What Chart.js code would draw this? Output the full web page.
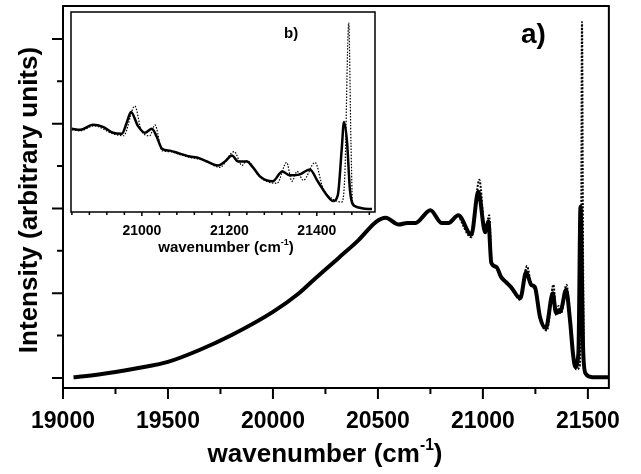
<!DOCTYPE html>
<html>
<head>
<meta charset="utf-8">
<script src="https://cdn.jsdelivr.net/npm/chart.js@4.4.1/dist/chart.umd.min.js"></script>
<style>
  html, body { margin: 0; padding: 0; background: #fff; }
  #wrap { position: relative; width: 641px; height: 474px; }
  #main { position: absolute; left: 0; top: 0; }
  #inset { position: absolute; left: 61px; top: 2px; }
</style>
</head>
<body>
<div id="wrap">
  <canvas id="main" width="641" height="474"></canvas>
  <canvas id="inset" width="325" height="260"></canvas>
</div>
<script>
// main spectrum a), solid trace
const mainWn = [19050, 19100, 19250, 19365, 19500, 19650, 19806, 20000, 20124, 20204, 20314, 20409,
  20490, 20537, 20599, 20640, 20679, 20750, 20803, 20836, 20883, 20945, 20978, 21011, 21026, 21040,
  21064, 21087, 21111, 21135, 21178, 21206, 21230, 21248, 21272, 21300, 21333, 21348, 21372, 21396,
  21415, 21429, 21440, 21455, 21465, 21478, 21490, 21520, 21600];
const mainSolid = [0.01, 0.02, 0.07, 0.12, 0.19, 0.33, 0.51, 0.78, 1.0, 1.18, 1.42, 1.63,
  1.84, 1.89, 1.81, 1.83, 1.83, 1.98, 1.83, 1.83, 1.92, 1.69, 2.2, 1.72, 1.85, 1.36,
  1.31, 1.19, 1.13, 1.07, 0.94, 1.25, 1.10, 1.07, 0.72, 0.59, 1.0, 0.77, 0.80, 1.04,
  0.68, 0.29, 0.13, 0.3, 2.02, 0.3, 0.05, 0.01, 0.01];

// main spectrum a), dotted trace (only differs on the right)
const mainWnDot = [20883, 20945, 20983, 21011, 21030, 21042, 21064, 21087, 21111, 21135, 21178, 21210,
  21232, 21250, 21272, 21305, 21336, 21350, 21360, 21372, 21398, 21418, 21432, 21445, 21462, 21468,
  21472, 21477, 21482, 21520, 21600];
const mainDotted = [1.92, 1.66, 2.34, 1.70, 1.92, 1.36, 1.30, 1.18, 1.12, 1.06, 0.92, 1.32,
  1.08, 1.05, 0.70, 0.56, 1.10, 0.74, 0.85, 0.76, 1.10, 0.60, 0.25, 0.10, 0.15, 1.5,
  4.2, 1.5, 0.1, 0.01, 0.01];

// inset b), solid trace
const insetWn = [20840, 20859, 20888, 20911, 20934, 20954, 20966, 20975, 20991, 21007, 21023, 21034,
  21046, 21064, 21087, 21110, 21126, 21149, 21174, 21190, 21206, 21220, 21240, 21254, 21270, 21299,
  21321, 21338, 21361, 21384, 21402, 21423, 21437, 21448, 21457, 21462, 21469, 21476, 21487, 21526];
const insetSolid = [1.64, 1.62, 1.72, 1.68, 1.56, 1.54, 1.78, 1.98, 1.70, 1.56, 1.64, 1.48,
  1.24, 1.20, 1.14, 1.08, 1.06, 0.98, 0.90, 0.98, 1.10, 0.98, 0.98, 0.86, 0.68, 0.58,
  0.78, 0.70, 0.72, 0.82, 0.58, 0.30, 0.18, 0.30, 1.24, 1.78, 1.38, 0.38, 0.08, 0.02];

// inset b), dotted trace
const insetWnDot = [20840, 20859, 20890, 20934, 20958, 20984, 20999, 21018, 21030, 21046, 21064, 21087,
  21110, 21130, 21152, 21178, 21211, 21229, 21240, 21270, 21309, 21331, 21343, 21355, 21369, 21396,
  21414, 21437, 21457, 21464, 21473, 21478, 21482, 21526];
const insetDotted = [1.62, 1.60, 1.70, 1.54, 1.50, 2.10, 1.60, 1.50, 1.72, 1.20, 1.18, 1.12,
  1.06, 1.03, 0.96, 0.86, 1.18, 0.90, 1.00, 0.66, 0.54, 0.96, 0.58, 0.78, 0.60, 0.96,
  0.44, 0.22, 0.16, 0.70, 3.78, 1.38, 0.10, 0.02];

// ticks
const mainXLabels = [19000, 19500, 20000, 20500, 21000, 21500];
const mainXMinor = [19250, 19750, 20250, 20750, 21250];
const mainYMajor = [0, 1, 2, 3, 4];
const mainYMinor = [0.5, 1.5, 2.5, 3.5];
const insetXLabels = [21000, 21200, 21400];
const insetXMinor = [20840, 20880, 20920, 20960, 21040, 21080, 21120, 21160, 21240, 21280, 21320, 21360, 21440, 21480, 21520];

const FONT = '"Liberation Sans", Arial, Helvetica, sans-serif';

function pts(xs, ys) {
  return xs.map((x, i) => ({ x: x, y: ys[i] }));
}

// draws text made of parts, e.g. superscripts
function drawParts(ctx, parts, x, y, size, align) {
  let w = 0;
  parts.forEach(p => {
    ctx.font = 'bold ' + (p.sup ? size * 0.6 : size) + 'px ' + FONT;
    p.w = ctx.measureText(p.t).width;
    w += p.w;
  });
  let cx = align === 'center' ? x - w / 2 : x;
  parts.forEach(p => {
    ctx.font = 'bold ' + (p.sup ? size * 0.6 : size) + 'px ' + FONT;
    ctx.fillText(p.t, cx, p.sup ? y - size * 0.45 : y);
    cx += p.w;
  });
}

const frameTicks = {
  id: 'frameTicks',
  afterDraw(chart, args, o) {
    const { ctx, chartArea: a, scales } = chart;
    ctx.save();
    ctx.strokeStyle = '#000';
    ctx.lineWidth = o.lw;
    ctx.strokeRect(a.left, a.top, a.right - a.left, a.bottom - a.top);
    ctx.beginPath();
    o.xMajor.forEach(v => {
      const p = scales.x.getPixelForValue(v);
      ctx.moveTo(p, a.bottom); ctx.lineTo(p, a.bottom + o.major);
    });
    o.xMinor.forEach(v => {
      const p = scales.x.getPixelForValue(v);
      ctx.moveTo(p, a.bottom); ctx.lineTo(p, a.bottom + o.minor);
    });
    (o.yMajor || []).forEach(v => {
      const p = scales.y.getPixelForValue(v);
      ctx.moveTo(a.left, p); ctx.lineTo(a.left - o.major, p);
    });
    (o.yMinor || []).forEach(v => {
      const p = scales.y.getPixelForValue(v);
      ctx.moveTo(a.left, p); ctx.lineTo(a.left - o.minor, p);
    });
    ctx.stroke();

    ctx.fillStyle = '#000';
    ctx.textBaseline = 'alphabetic';
    (o.texts || []).forEach(t => {
      ctx.save();
      ctx.translate(t.x, t.y);
      if (t.rot) ctx.rotate(t.rot);
      ctx.textAlign = 'left';
      drawParts(ctx, t.parts, 0, 0, t.size, t.align);
      ctx.restore();
    });
    ctx.restore();
  }
};

new Chart(document.getElementById('main'), {
  type: 'line',
  data: {
    datasets: [
      {
        data: pts(mainWn, mainSolid),
        borderColor: '#000',
        borderWidth: 4,
        pointRadius: 0,
        cubicInterpolationMode: 'monotone'
      },
      {
        data: pts(mainWnDot, mainDotted),
        borderColor: '#000',
        borderWidth: 2,
        borderDash: [2, 1.5],
        pointRadius: 0,
        cubicInterpolationMode: 'monotone'
      }
    ]
  },
  options: {
    responsive: false,
    animation: false,
    layout: { padding: { top: 6, right: 30, left: 0, bottom: 0 } },
    plugins: {
      legend: { display: false },
      tooltip: { enabled: false },
      frameTicks: {
        lw: 2, major: 11, minor: 6,
        xMajor: mainXLabels, xMinor: mainXMinor,
        yMajor: mainYMajor, yMinor: mainYMinor,
        texts: [
          { x: 325, y: 462, size: 26, align: 'center',
            parts: [{ t: 'wavenumber (cm' }, { t: '-1', sup: true }, { t: ')' }] },
          { x: 37, y: 200, size: 26, align: 'center', rot: -Math.PI / 2,
            parts: [{ t: 'Intensity (arbitrary units)' }] },
          { x: 521, y: 43, size: 28, align: 'left', parts: [{ t: 'a)' }] }
        ]
      }
    },
    scales: {
      x: {
        type: 'linear',
        min: 19000,
        max: 21600,
        grid: { display: false, drawTicks: false },
        border: { display: false },
        afterBuildTicks: s => { s.ticks = mainXLabels.map(v => ({ value: v })); },
        afterFit: s => { s.height = 86; },
        ticks: {
          padding: 20,
          maxRotation: 0,
          autoSkip: false,
          color: '#000',
          font: { family: FONT, size: 23, weight: 'bold' },
          callback: v => String(v)
        }
      },
      y: {
        min: -0.118,
        max: 4.389,
        grid: { display: false, drawTicks: false },
        border: { display: false },
        ticks: { display: false },
        afterFit: s => { s.width = 63; }
      }
    }
  },
  plugins: [frameTicks]
});

new Chart(document.getElementById('inset'), {
  type: 'line',
  data: {
    datasets: [
      {
        data: pts(insetWn, insetSolid),
        borderColor: '#000',
        borderWidth: 2.5,
        pointRadius: 0,
        cubicInterpolationMode: 'monotone'
      },
      {
        data: pts(insetWnDot, insetDotted),
        borderColor: '#000',
        borderWidth: 1.2,
        borderDash: [1.5, 1.5],
        pointRadius: 0,
        cubicInterpolationMode: 'monotone'
      }
    ]
  },
  options: {
    responsive: false,
    animation: false,
    layout: { padding: { top: 10, right: 11, left: 10, bottom: 0 } },
    plugins: {
      legend: { display: false },
      tooltip: { enabled: false },
      frameTicks: {
        lw: 1.5, major: 4, minor: 3,
        xMajor: insetXLabels, xMinor: insetXMinor,
        texts: [
          { x: 165, y: 250, size: 15, align: 'center',
            parts: [{ t: 'wavenumber (cm' }, { t: '-1', sup: true }, { t: ')' }] },
          { x: 223, y: 36, size: 15, align: 'left', parts: [{ t: 'b)' }] }
        ]
      }
    },
    scales: {
      x: {
        type: 'linear',
        min: 20838,
        max: 21533,
        grid: { display: false, drawTicks: false },
        border: { display: false },
        afterBuildTicks: s => { s.ticks = insetXLabels.map(v => ({ value: v })); },
        afterFit: s => { s.height = 50; },
        ticks: {
          padding: 11,
          maxRotation: 0,
          autoSkip: false,
          color: '#000',
          font: { family: FONT, size: 14, weight: 'bold' },
          callback: v => String(v)
        }
      },
      y: {
        display: false,
        min: -0.04,
        max: 4.0
      }
    }
  },
  plugins: [frameTicks]
});
</script>
</body>
</html>
